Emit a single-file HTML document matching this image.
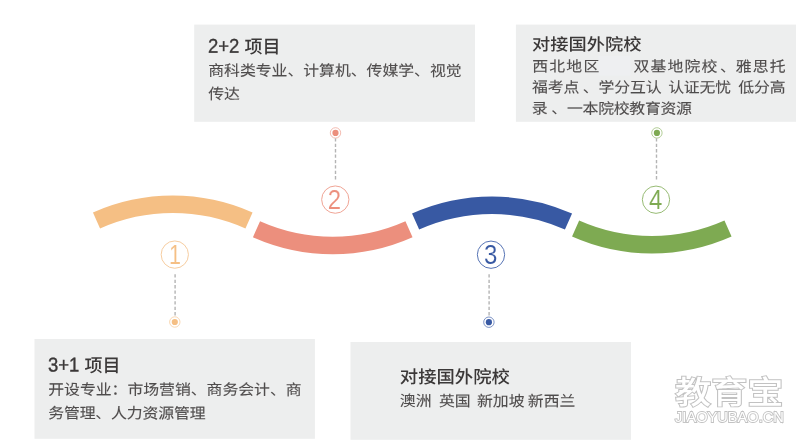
<!DOCTYPE html>
<html lang="zh-CN">
<head>
<meta charset="utf-8">
<title>项目介绍</title>
<style>
html,body{margin:0;padding:0;background:#fff;}
body{width:804px;height:446px;position:relative;overflow:hidden;font-family:"Liberation Sans","Noto Sans CJK SC",sans-serif;}
.txt{position:absolute;left:0;top:0;width:804px;height:446px;will-change:transform;}
.t{position:absolute;white-space:nowrap;margin:0;font-weight:500;font-size:18px;line-height:24px;height:24px;color:#3b3838;transform-origin:0 50%;transform:scale(1,1);}
.t b{-webkit-text-stroke:0.35px;font-weight:500;font-size:18.5px;display:inline-block;transform:scale(1,1.08);transform-origin:0 80%;}
.l{position:absolute;white-space:nowrap;margin:0;font-weight:400;font-size:16px;line-height:24px;height:24px;color:#4f4c4c;-webkit-text-stroke:0.12px;transform-origin:0 50%;transform:scale(0.99,0.92);}
.g{display:inline-block;}
svg{position:absolute;left:0;top:0;}
.num{position:absolute;width:28px;height:28px;text-align:center;font-size:24px;line-height:28px;-webkit-text-stroke:0.1px #fff;transform:scale(1,1.1);transform-origin:50% 50%;}
.wm{position:absolute;white-space:nowrap;color:#fff;-webkit-text-stroke:2px #c2c2c2;paint-order:stroke fill;transform-origin:0 0;}
</style>
</head>
<body>
<svg width="804" height="446" viewBox="0 0 804 446">
  <g fill="#edeeee">
    <rect x="194.2" y="24.6" width="280.8" height="97.2"/>
    <rect x="515.9" y="24.6" width="280.1" height="97.2"/>
    <rect x="34.5" y="339" width="280.4" height="99.8"/>
    <rect x="350.5" y="342" width="280.5" height="97.8"/>
    <rect x="598.5" y="56" width="32" height="19.5" fill="#eeeff1"/>
  </g>
  <g fill="none" stroke-width="17.5">
    <path stroke="#f5bf84" d="M96.5 220.4 A187.5 187.5 0 0 1 249 220.4"/>
    <path stroke="#ec8f7d" d="M256.5 229.2 A187.5 187.5 0 0 0 409 229.2"/>
    <path stroke="#3859a3" d="M415.6 221.6 A187.5 187.5 0 0 1 568.5 221.6"/>
    <path stroke="#7eaa52" d="M575.6 228.6 A187.5 187.5 0 0 0 728 228.6"/>
  </g>
  <g stroke="#b4b4b4" stroke-width="1.4" stroke-dasharray="3.3 2.1" fill="none">
    <path d="M335.5 138.3 V180.6"/>
    <path d="M656.5 138.3 V180.6"/>
    <path d="M175.1 274.3 V316.6"/>
    <path d="M489.1 274.3 V316.6"/>
  </g>
  <g fill="#fff" stroke-width="0.9">
    <circle cx="335.5" cy="132.9" r="5.2" stroke="#f2b3a7"/>
    <circle cx="656.9" cy="132.9" r="5.2" stroke="#a9c78b"/>
    <circle cx="174.8" cy="322" r="5.2" stroke="#f8d4ab"/>
    <circle cx="488.9" cy="322.2" r="5.2" stroke="#6d86be"/>
  </g>
  <g fill="none" stroke-width="1">
    <circle cx="174.8" cy="254.6" r="13.65" stroke="#f7cda0"/>
    <circle cx="335.3" cy="199.6" r="13.65" stroke="#f0a596"/>
    <circle cx="491.0" cy="254.7" r="13.65" stroke="#5774b5"/>
    <circle cx="656.0" cy="199.7" r="13.65" stroke="#98bc75"/>
  </g>
  <circle cx="335.5" cy="132.9" r="3.1" fill="#ec8f7d"/>
  <circle cx="656.9" cy="132.9" r="3.1" fill="#7eaa52"/>
  <circle cx="174.8" cy="322" r="3.1" fill="#f5bf84"/>
  <circle cx="488.9" cy="322.2" r="3.1" fill="#3859a3"/>
</svg>

<div class="txt">
<h3 class="t" style="left:208px;top:34px;transform:translate(0.00px,0.95px) scale(1,1) rotate(0.05deg);"><b>2+2</b> 项目</h3>
<p class="l" style="left:208px;top:59px;transform:translate(0.20px,0.10px) scale(0.99,0.92) rotate(0.05deg);">商科类专业、计算机、传媒学、视觉</p>
<p class="l" style="left:208px;top:82px;transform:translate(0.20px,0.50px) scale(0.99,0.92) rotate(0.05deg);">传达</p>
<h3 class="t" style="left:532px;top:32px;transform:translate(0.00px,0.70px) scale(1.014,0.93) rotate(0.05deg);">对接国外院校</h3>
<p class="l" style="left:532px;top:54px;letter-spacing:1.2px;transform:translate(0.30px,0.90px) scale(0.99,0.92) rotate(0.05deg);">西北地区<span class="g" style="width:33.4px"></span>双基地院校<span class="g" style="width:1.5px"></span>、<span class="g" style="margin-left:-1.5px"></span>雅思托</p>
<p class="l" style="left:531px;top:75px;letter-spacing:-0.1px;transform:translate(0.90px,0.75px) scale(0.99,0.92) rotate(0.05deg);">福考点<span class="g" style="width:3.6px"></span>、学分互认<span class="g" style="width:6.8px"></span>认证无忧<span class="g" style="width:7.2px"></span>低分高</p>
<p class="l" style="left:531px;top:97px;letter-spacing:-0.25px;transform:translate(0.80px,0.00px) scale(0.99,0.92) rotate(0.05deg);">录<span class="g" style="width:4px"></span>、一本院校教育资源</p>
<h3 class="t" style="left:48px;top:353px;transform:translate(0.00px,0.70px) scale(1,1) rotate(0.05deg);"><b>3+1</b> 项目</h3>
<p class="l" style="left:48px;top:378px;transform:translate(0.20px,0.10px) scale(0.99,0.92) rotate(0.05deg);">开设专业：市场营销、商务会计、商</p>
<p class="l" style="left:48px;top:401px;letter-spacing:-0.12px;transform:translate(0.20px,0.70px) scale(0.99,0.92) rotate(0.05deg);">务管理、人力资源管理</p>
<h3 class="t" style="left:399px;top:365px;transform:translate(0.80px,0.10px) scale(1.02,0.97) rotate(0.05deg);">对接国外院校</h3>
<p class="l" style="left:399px;top:389px;transform:translate(0.80px,0.50px) scale(0.99,0.92) rotate(0.05deg);">澳洲<span class="g" style="width:7.6px"></span>英国<span class="g" style="width:6.4px"></span>新加坡<span class="g" style="width:3.3px"></span>新西兰</p>
<div class="num" style="left:160.8px;top:241.0px;color:#f5bf84;transform:scale(0.9,1.16);">1</div>
<div class="num" style="left:320.5px;top:186.0px;color:#ec8f7d;transform:scale(1.0,1.16);">2</div>
<div class="num" style="left:476.7px;top:241.1px;color:#3859a3;transform:scale(1.0,1.16);">3</div>
<div class="num" style="left:641.7px;top:186.1px;color:#7eaa52;transform:scale(1.0,1.16);">4</div>
<div class="wm" style="left:674.6px;top:375.1px;font-size:36px;line-height:40px;font-weight:500;-webkit-text-stroke-width:2.2px;transform:scale(1.005,0.86);">教育宝</div>
<div class="wm" style="left:674.6px;top:408px;font-size:15px;line-height:18px;font-weight:400;-webkit-text-stroke-width:1.8px;transform:scale(0.975,1);">JIAOYUBAO.CN</div>
</div>
</body>
</html>
